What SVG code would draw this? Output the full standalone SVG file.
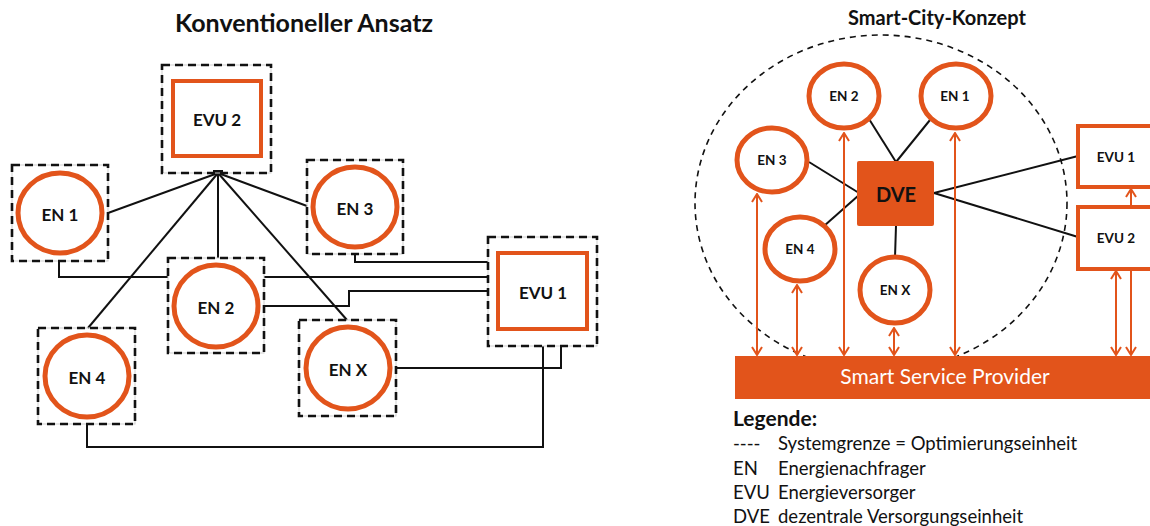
<svg xmlns="http://www.w3.org/2000/svg" width="1150" height="526" viewBox="0 0 1150 526">
<defs>
<style>
.title{font-family:Lato,"Open Sans",sans-serif;font-weight:bold;fill:#111;text-anchor:middle}
.lbl{font-family:Lato,"Open Sans",sans-serif;font-weight:bold;fill:#111;text-anchor:middle;dominant-baseline:central}
.sys{fill:none;stroke:#111;stroke-width:2.6;stroke-dasharray:8 5}
.sysg{fill:none;stroke:#cfcfcf;stroke-width:1}
.en{fill:#fff;stroke:#E2541B;stroke-width:5}
.evu{fill:#fff;stroke:#E2541B;stroke-width:4}
.ln{fill:none;stroke:#111;stroke-width:2}
.ar{fill:none;stroke:#E2541B;stroke-width:2}
.leg{font-family:Lato,"Open Sans",sans-serif;font-size:18.5px;fill:#111}
</style>
<marker id="ah" viewBox="0 0 10 12" refX="9" refY="6" markerWidth="10" markerHeight="12" orient="auto-start-reverse" markerUnits="userSpaceOnUse">
<path d="M1,1 L9,6 L1,11" fill="none" stroke="#E2541B" stroke-width="2"/>
</marker>
</defs>
<rect width="1150" height="526" fill="#fff"/>

<text class="title" x="304" y="32" font-size="25">Konventioneller Ansatz</text>
<text class="title" x="937" y="25" font-size="20">Smart-City-Konzept</text>

<!-- left connectors -->
<g id="connectors-left">
<line class="ln" x1="218" y1="173" x2="108" y2="213"/>
<line class="ln" x1="218" y1="173" x2="307" y2="206"/>
<line class="ln" x1="218" y1="173" x2="218" y2="258"/>
<line class="ln" x1="218" y1="173" x2="88" y2="328"/>
<line class="ln" x1="218" y1="173" x2="347" y2="320"/>
<polyline class="ln" points="59,261 59,277 168,277"/>
<line class="ln" x1="264" y1="277" x2="488" y2="277"/>
<polyline class="ln" points="264,306 349,306 349,291 488,291"/>
<polyline class="ln" points="355,254 355,262 488,262"/>
<polyline class="ln" points="396,368 561,368 561,346"/>
<polyline class="ln" points="87,424 87,447 543,447 543,346"/>
<rect x="213" y="170" width="10" height="4" fill="#111"/>
</g>

<!-- left nodes -->
<g id="l-evu2">
<rect class="sysg" x="162" y="65" width="109" height="108"/>
<rect class="sys" x="162" y="65" width="109" height="108"/>
<rect class="evu" x="173" y="81" width="88" height="75"/>
<text class="lbl" x="217" y="119" font-size="17">EVU 2</text>
</g>
<g id="l-en1">
<rect class="sysg" x="12" y="165" width="96" height="96"/>
<rect class="sys" x="12" y="165" width="96" height="96"/>
<ellipse class="en" cx="60" cy="213" rx="42" ry="40"/>
<text class="lbl" x="60" y="214" font-size="17">EN 1</text>
</g>
<g id="l-en3">
<rect class="sysg" x="307" y="160" width="96" height="94"/>
<rect class="sys" x="307" y="160" width="96" height="94"/>
<ellipse class="en" cx="355" cy="207" rx="42" ry="40"/>
<text class="lbl" x="355" y="208" font-size="17">EN 3</text>
</g>
<g id="l-en2">
<rect class="sysg" x="168" y="258" width="96" height="95"/>
<rect class="sys" x="168" y="258" width="96" height="95"/>
<ellipse class="en" cx="216" cy="306" rx="42" ry="41"/>
<text class="lbl" x="216" y="307" font-size="17">EN 2</text>
</g>
<g id="l-en4">
<rect class="sysg" x="38" y="328" width="97" height="96"/>
<rect class="sys" x="38" y="328" width="97" height="96"/>
<ellipse class="en" cx="87" cy="376" rx="42" ry="41"/>
<text class="lbl" x="87" y="377" font-size="17">EN 4</text>
</g>
<g id="l-enx">
<rect class="sysg" x="299" y="320" width="97" height="96"/>
<rect class="sys" x="299" y="320" width="97" height="96"/>
<ellipse class="en" cx="348" cy="368" rx="42" ry="41"/>
<text class="lbl" x="348" y="369" font-size="17">EN X</text>
</g>
<g id="l-evu1">
<rect class="sysg" x="488" y="237" width="109" height="109"/>
<rect class="sys" x="488" y="237" width="109" height="109"/>
<rect class="evu" x="498" y="253" width="89" height="76"/>
<text class="lbl" x="543" y="292" font-size="17">EVU 1</text>
</g>

<!-- right side -->
<g id="systemgrenze">
<ellipse cx="881" cy="203" rx="186" ry="168" fill="none" stroke="#111" stroke-width="1.6" stroke-dasharray="6 5"/>
</g>

<g id="connectors-right">
<line class="ln" x1="869" y1="119" x2="896" y2="162"/>
<line class="ln" x1="930" y1="120" x2="896" y2="162"/>
<line class="ln" x1="809" y1="162" x2="859" y2="193"/>
<line class="ln" x1="824" y1="226" x2="859" y2="195"/>
<line class="ln" x1="896" y1="226" x2="895" y2="257"/>
<line class="ln" x1="934" y1="193" x2="1078" y2="156"/>
<line class="ln" x1="934" y1="193" x2="1078" y2="237"/>
<line class="ar" x1="757" y1="194" x2="757" y2="355" marker-start="url(#ah)" marker-end="url(#ah)"/>
<line class="ar" x1="797" y1="285" x2="797" y2="355" marker-start="url(#ah)" marker-end="url(#ah)"/>
<line class="ar" x1="844" y1="133" x2="844" y2="355" marker-start="url(#ah)" marker-end="url(#ah)"/>
<line class="ar" x1="894" y1="328" x2="894" y2="355" marker-start="url(#ah)" marker-end="url(#ah)"/>
<line class="ar" x1="955" y1="133" x2="955" y2="355" marker-start="url(#ah)" marker-end="url(#ah)"/>
<line class="ar" x1="1116" y1="271" x2="1116" y2="355" marker-start="url(#ah)" marker-end="url(#ah)"/>
<line class="ar" x1="1131" y1="271" x2="1131" y2="355" marker-end="url(#ah)"/>
<line class="ar" x1="1131" y1="205" x2="1131" y2="189" marker-end="url(#ah)"/>
</g>

<g id="r-en2">
<ellipse class="en" cx="844" cy="96" rx="35" ry="32"/>
<text class="lbl" x="844" y="96" font-size="13.5">EN 2</text>
</g>
<g id="r-en1">
<ellipse class="en" cx="956" cy="96" rx="35" ry="32"/>
<text class="lbl" x="955" y="96" font-size="13.5">EN 1</text>
</g>
<g id="r-en3">
<ellipse class="en" cx="772" cy="160" rx="35" ry="32"/>
<text class="lbl" x="772" y="160" font-size="13.5">EN 3</text>
</g>
<g id="r-en4">
<ellipse class="en" cx="800" cy="249" rx="35" ry="32"/>
<text class="lbl" x="800" y="249" font-size="13.5">EN 4</text>
</g>
<g id="r-enx">
<ellipse class="en" cx="895" cy="290" rx="35" ry="33"/>
<text class="lbl" x="895" y="290" font-size="13.5">EN X</text>
</g>
<g id="r-dve">
<rect x="857" y="161" width="77" height="65" rx="2" fill="#E2541B"/>
<text class="lbl" x="896" y="194" font-size="20">DVE</text>
</g>
<g id="r-evu1">
<rect class="evu" x="1078" y="126" width="90" height="61"/>
<text class="lbl" x="1116" y="157" font-size="13.5">EVU 1</text>
</g>
<g id="r-evu2">
<rect class="evu" x="1078" y="207" width="90" height="62"/>
<text class="lbl" x="1116" y="238" font-size="13.5">EVU 2</text>
</g>
<g id="r-ssp">
<rect x="735" y="356" width="420" height="43" fill="#E2541B"/>
<text x="945" y="384" font-family="Lato,'Open Sans',sans-serif" font-size="21" fill="#fff" text-anchor="middle">Smart Service Provider</text>
</g>

<g id="legend">
<text x="733" y="426" font-family="Lato,'Open Sans',sans-serif" font-size="21" font-weight="bold" fill="#111">Legende:</text>
<text class="leg" x="733" y="450">----</text>
<text class="leg" x="778" y="450">Systemgrenze = Optimierungseinheit</text>
<text class="leg" x="733" y="475">EN</text>
<text class="leg" x="778" y="475">Energienachfrager</text>
<text class="leg" x="733" y="499">EVU</text>
<text class="leg" x="778" y="499">Energieversorger</text>
<text class="leg" x="733" y="523">DVE</text>
<text class="leg" x="778" y="523">dezentrale Versorgungseinheit</text>
</g>
</svg>
